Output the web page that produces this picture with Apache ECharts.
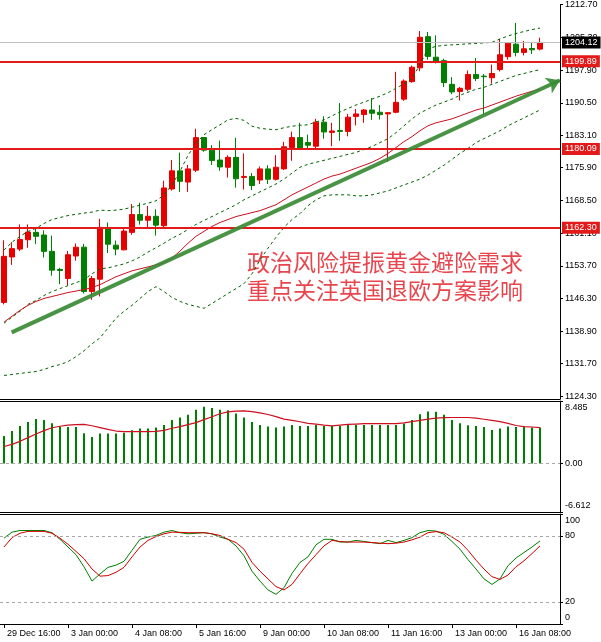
<!DOCTYPE html>
<html>
<head>
<meta charset="utf-8">
<script src="https://cdn.jsdelivr.net/npm/echarts@6.0.0/dist/echarts.min.js"></script>
<style>
html, body { margin: 0; padding: 0; background: #fff; }
#chart { width: 601px; height: 642px; }
</style>
</head>
<body>
<div id="chart"></div>
<script>
var chart = echarts.init(document.getElementById('chart'));

// 时间轴标签（每8根K线一个）
var timeLabels = ['29 Dec 16:00', '3 Jan 00:00', '4 Jan 08:00', '5 Jan 16:00', '9 Jan 00:00',
    '10 Jan 08:00', '11 Jan 16:00', '13 Jan 00:00', '16 Jan 08:00'];
var slotCount = 70; // 68根K线 + 右侧留白

// K线 开 高 低 收
var open = [1145.46,1155.71,1157.49,1159.60,1161.27,1160.67,1156.98,1152.92,1150.87,1155.93,
    1157.93,1147.91,1150.70,1162.23,1158.38,1157.33,1161.27,1165.28,1164.01,1164.90,
    1162.77,1171.07,1175.15,1172.63,1175.31,1182.66,1179.83,1177.60,1175.97,1178.20,
    1173.68,1173.90,1173.08,1175.60,1173.26,1175.60,1180.43,1182.66,1181.54,1180.72,
    1186.15,1183.84,1184.28,1184.06,1187.40,1187.85,1188.89,1188.38,1188.00,1188.38,
    1191.34,1195.28,1198.40,1205.44,1200.81,1200.03,1194.68,1193.06,1193.57,1196.91,
    1196.53,1196.17,1198.02,1200.92,1203.75,1201.88,1202.77,1202.63];
var high = [1159.49,1159.05,1163.06,1163.06,1162.50,1161.72,1160.54,1153.26,1157.04,1158.76,
    1158.67,1151.41,1164.33,1163.50,1159.43,1162.01,1167.67,1167.96,1167.22,1166.46,
    1172.92,1177.60,1179.25,1176.49,1184.66,1182.81,1180.94,1181.99,1178.65,1182.61,
    1179.09,1174.64,1176.13,1176.42,1178.71,1181.70,1184.00,1186.00,1183.32,1186.89,
    1187.49,1186.00,1190.45,1188.00,1189.11,1189.11,1191.56,1190.01,1188.45,1197.51,
    1195.80,1198.91,1206.71,1206.49,1205.75,1200.47,1196.31,1194.08,1197.80,1200.63,
    1197.02,1199.14,1204.93,1204.19,1208.54,1204.48,1204.26,1205.22];
var low = [1145.02,1153.92,1157.04,1157.78,1158.60,1155.60,1151.48,1149.58,1149.25,1154.88,
    1147.47,1146.06,1146.80,1156.60,1156.09,1157.20,1160.72,1163.00,1162.39,1160.54,
    1162.17,1170.70,1170.41,1170.41,1174.86,1179.47,1176.49,1175.19,1173.64,1171.36,
    1170.92,1170.81,1172.19,1172.19,1172.97,1175.37,1177.42,1179.83,1180.21,1180.21,
    1182.43,1180.72,1181.92,1182.95,1185.40,1186.00,1186.67,1186.73,1177.20,1188.16,
    1190.96,1195.06,1197.64,1200.25,1199.40,1194.08,1192.46,1191.05,1193.12,1195.42,
    1188.00,1194.84,1197.58,1200.25,1200.99,1201.21,1201.52,1202.34];
var close = [1155.86,1157.60,1159.65,1161.34,1160.38,1156.98,1152.74,1152.66,1156.22,1157.93,
    1147.91,1150.87,1162.39,1158.60,1157.49,1161.56,1165.28,1164.01,1164.90,1162.90,
    1171.30,1175.15,1172.79,1175.60,1182.66,1179.83,1177.47,1176.04,1178.20,1173.37,
    1173.90,1171.85,1175.60,1173.26,1175.97,1180.58,1182.66,1180.21,1180.94,1186.15,
    1183.93,1184.15,1184.06,1187.27,1188.00,1188.89,1188.16,1187.85,1188.29,1190.61,
    1195.42,1198.54,1205.31,1200.99,1199.69,1195.06,1192.97,1193.79,1196.91,1196.02,
    1196.40,1197.13,1201.36,1203.97,1201.88,1202.70,1202.48,1204.12];

// 布林带 + 红色均线
var bandUpper = [1157.27,1159.05,1160.38,1161.50,1162.17,1163.28,1164.17,1164.62,1165.06,1165.35,
    1165.62,1165.84,1166.29,1166.17,1166.29,1166.51,1166.95,1167.40,1167.85,1168.40,
    1169.74,1171.97,1175.08,1178.65,1181.32,1183.32,1184.44,1185.55,1186.66,1187.00,
    1186.55,1185.22,1184.77,1184.55,1184.44,1184.88,1185.22,1185.44,1185.55,1186.22,
    1186.66,1187.56,1188.45,1189.23,1190.01,1190.67,1191.34,1192.01,1192.79,1193.79,
    1194.79,1196.02,1199.14,1202.70,1203.26,1203.48,1203.59,1203.70,1203.81,1203.93,
    1204.04,1204.15,1204.93,1205.60,1206.15,1206.60,1207.04,1207.38];
var bandMiddle = [1140.78,1142.12,1143.46,1145.02,1145.91,1147.02,1147.91,1148.58,1149.25,1149.92,
    1150.58,1151.92,1153.03,1153.26,1153.70,1154.15,1154.82,1155.71,1156.82,1157.82,
    1158.82,1159.94,1160.83,1161.94,1163.06,1163.95,1164.84,1165.73,1166.62,1167.51,
    1168.62,1169.51,1170.41,1171.30,1172.19,1173.30,1174.64,1175.97,1176.64,1177.09,
    1177.53,1177.98,1178.42,1178.87,1179.31,1179.98,1180.65,1181.54,1182.43,1183.77,
    1185.33,1186.89,1188.22,1189.11,1190.01,1190.67,1191.34,1192.23,1192.90,1193.57,
    1194.01,1194.68,1195.35,1196.02,1196.69,1197.13,1197.58,1198.02];
var bandLower = [1128.98,1129.20,1129.43,1129.65,1129.87,1130.32,1130.98,1131.43,1132.10,1133.21,
    1134.55,1136.11,1137.45,1139.67,1141.90,1143.46,1144.79,1146.35,1147.91,1149.02,
    1147.91,1146.58,1145.68,1145.02,1144.57,1144.13,1145.24,1146.35,1147.47,1148.58,
    1149.69,1151.92,1155.04,1157.71,1160.16,1162.39,1164.17,1165.51,1167.29,1168.62,
    1169.51,1169.74,1169.74,1169.74,1169.51,1169.51,1169.74,1170.18,1170.63,1171.30,
    1171.97,1172.63,1173.30,1174.19,1175.31,1176.42,1177.76,1179.09,1180.21,1181.54,
    1182.43,1183.32,1184.21,1185.33,1186.22,1187.11,1188.00,1188.89];
var maRed = [1141.01,1142.34,1143.68,1144.79,1145.68,1146.35,1146.80,1147.24,1147.69,1148.02,
    1148.36,1148.80,1149.47,1150.36,1151.25,1151.92,1152.59,1153.03,1153.48,1153.92,
    1154.37,1155.48,1157.04,1158.82,1160.38,1161.50,1162.61,1163.50,1164.17,1164.84,
    1165.28,1165.73,1166.17,1166.84,1167.51,1168.62,1169.74,1170.63,1171.52,1172.41,
    1173.30,1173.97,1174.42,1175.08,1175.75,1176.42,1177.09,1177.98,1179.09,1180.43,
    1181.76,1182.88,1184.21,1185.33,1186.00,1186.44,1186.89,1187.56,1188.22,1188.89,
    1189.34,1190.01,1190.67,1191.34,1192.01,1192.57,1193.12,1193.57];

// MACD 柱 + 信号线
var macdHist = [3.72,4.40,5.09,5.64,6.05,5.91,5.46,5.01,4.95,4.95,
    4.09,3.58,4.05,4.05,4.05,4.18,4.50,4.73,4.73,4.87,
    5.23,5.91,6.24,6.60,7.28,7.70,7.52,7.28,7.24,6.79,
    6.24,5.64,5.23,5.01,4.87,5.01,5.23,5.09,5.09,5.23,
    5.09,5.09,5.09,5.23,5.23,5.23,5.23,5.23,5.23,5.23,
    5.42,5.91,6.69,7.06,7.01,6.60,5.91,5.46,5.18,5.09,
    4.95,4.54,4.73,5.01,4.95,5.01,4.87,4.87];
var macdSignal = [2.30,2.58,3.00,3.50,4.00,4.45,4.85,5.05,5.20,5.28,
    5.30,5.12,4.87,4.62,4.40,4.32,4.32,4.32,4.32,4.35,
    4.50,4.78,5.00,5.28,5.55,5.95,6.35,6.75,7.00,7.10,
    7.15,7.05,6.88,6.65,6.35,6.02,5.85,5.66,5.45,5.33,
    5.20,5.10,5.20,5.30,5.35,5.40,5.42,5.42,5.42,5.42,
    5.50,5.68,5.85,6.02,6.15,6.22,6.24,6.24,6.24,6.15,
    6.00,5.85,5.69,5.45,5.15,5.00,4.95,4.87];

// 随机指标 %K %D
var stochK = [78,83.5,85,85,85,85,83,77,70,63,
    52,39,45.5,51.5,53.5,57,67,77,79,80.5,
    83.5,85,83,82,82.5,83,82,79,77,71,
    62,48,39,31,27,33,46,56,61,72,
    77,77,74.5,74.5,76,75,74,73,76,74,
    76,78.5,83,85,84.5,81.5,75,68,58.5,50,
    41,36,41,53,60,65,70,75.5];
var stochD = [70,78.5,82.5,84.2,84.2,84.2,82.5,78,72.5,66,
    59.4,50,43.5,44,47,51.5,61,70,76,79.5,
    82,83.5,83.3,83,83,83,82,80.5,77,74,
    68,56,48,41,34,31,36,45.7,55,63,
    71,76,75,74.5,74.5,74.5,74,73.5,73,73.5,
    74.5,76.5,79,83,84,83,79,74.5,67,58,
    50,43,40.5,44.5,52,57.5,64,71];

// 坐标刻度
var priceTicks = [1124.30, 1131.70, 1138.90, 1146.30, 1153.70, 1161.10, 1168.50,
    1175.90, 1183.10, 1190.50, 1197.90, 1205.30, 1212.70];
var macdTicks = [-6.612, 0, 8.485];
var stochTicks = [0, 20, 80, 100];

// 水平线与趋势线
var levels = [1199.89, 1180.09, 1162.30];
var lastPrice = 1204.12;
var trendFrom = [0.96, 1138.7];
var trendTo = [69.5, 1195.6];

var noteLines = ['政治风险提振黄金避险需求', '重点关注英国退欧方案影响'];

var font = 'Liberation Sans';
var categories = [];
for (var i = 0; i < slotCount; i++) {
    categories.push(i % 8 === 0 && timeLabels[i / 8] ? timeLabels[i / 8] : '');
}
var candles = open.map(function (o, i) { return [o, close[i], low[i], high[i]]; });
var every8 = function (i) { return i % 8 === 0; };

var levelLines = [{
    yAxis: lastPrice,
    lineStyle: { color: '#c0c0c0', width: 1, type: 'solid' },
    label: { backgroundColor: '#000' }
}].concat(levels.map(function (v) {
    return {
        yAxis: v,
        lineStyle: { color: '#e31a1a', width: 2, type: 'solid' },
        label: { backgroundColor: '#e31a1a' }
    };
}));

function hiddenCat(grid, pos) {
    return {
        type: 'category', gridIndex: grid, data: categories, boundaryGap: true,
        position: pos || 'bottom',
        axisLine: { show: true, onZero: false, lineStyle: { color: '#000', width: 1 } },
        axisTick: { show: false }, axisLabel: { show: false }, splitLine: { show: false }
    };
}
function rightAxis(grid, min, max, ticks, fmt) {
    return {
        type: 'value', gridIndex: grid, position: 'right', min: min, max: max,
        axisLine: { show: true, onZero: false, lineStyle: { color: '#000', width: 1 } },
        axisTick: { show: true, length: 3, customValues: ticks, lineStyle: { color: '#000' } },
        axisLabel: {
            customValues: ticks, formatter: fmt, margin: 5,
            color: '#000', fontSize: 9, fontFamily: font,
            rich: {
                t: { padding: [14, 0, 0, 0], color: '#000', fontSize: 9, fontFamily: font },
                b: { padding: [0, 0, 13, 0], color: '#000', fontSize: 9, fontFamily: font }
            }
        },
        splitLine: { show: false }
    };
}
function dashedLine(name, data, color) {
    return {
        name: name, type: 'line', xAxisIndex: 0, yAxisIndex: 0, data: data,
        symbol: 'none', silent: true,
        lineStyle: { color: color, width: 1, type: [3, 3] }
    };
}
function guide(v) {
    return { yAxis: v };
}

option = {
    animation: false,
    backgroundColor: '#fff',
    grid: [
        { left: 0, top: 0, width: 560, height: 399 },
        { left: 0, top: 401, width: 560, height: 111 },
        { left: 0, top: 514, width: 560, height: 110 }
    ],
    xAxis: [
        hiddenCat(0),
        hiddenCat(1),
        {
            type: 'category', gridIndex: 2, data: categories, boundaryGap: true,
            axisLine: { show: true, onZero: false, lineStyle: { color: '#000', width: 1 } },
            axisTick: { show: true, interval: every8, alignWithLabel: true, length: 4, lineStyle: { color: '#000' } },
            axisLabel: {
                interval: every8, align: 'left', margin: 5, padding: [0, 0, 0, 3],
                color: '#000', fontSize: 9, fontFamily: font
            },
            splitLine: { show: false }
        },
        { type: 'value', gridIndex: 0, min: -0.5, max: slotCount - 0.5, show: false },
        hiddenCat(1, 'top'),
        hiddenCat(2, 'top')
    ],
    yAxis: [
        rightAxis(0, 1123.66, 1212.72, priceTicks, function (v) { return v.toFixed(2); }),
        rightAxis(1, -6.612, 8.485, macdTicks, function (v) {
            if (v > 0) return '{t|' + v.toFixed(3) + '}';
            if (v < 0) return '{b|' + v.toFixed(3) + '}';
            return '0.00';
        }),
        rightAxis(2, 0, 100, stochTicks, function (v) {
            if (v === 100) return '{t|100}';
            if (v === 0) return '{b|0}';
            return String(v);
        })
    ],
    graphic: [{
        type: 'text', left: 247, top: 248, silent: true,
        style: {
            text: noteLines.join('\n'),
            fill: '#e8464e',
            fontSize: 23,
            lineHeight: 28,
            fontFamily: 'Noto Sans CJK SC'
        }
    }],
    series: [
        dashedLine('上轨', bandUpper, '#006400'),
        dashedLine('中轨', bandMiddle, '#006400'),
        dashedLine('下轨', bandLower, '#006400'),
        {
            name: '均线', type: 'line', xAxisIndex: 0, yAxisIndex: 0, data: maRed,
            symbol: 'none', silent: true,
            lineStyle: { color: '#cc1020', width: 1 }
        },
        {
            name: 'K线', type: 'candlestick', xAxisIndex: 0, yAxisIndex: 0,
            data: candles, barWidth: 5,
            itemStyle: {
                color: '#e80000', color0: '#008000',
                borderColor: '#e80000', borderColor0: '#008000', borderWidth: 1
            },
            markLine: {
                symbol: 'none', silent: true, animation: false,
                label: {
                    show: true, position: 'end', distance: 2,
                    formatter: function (p) { return p.value.toFixed(2); },
                    color: '#fff', fontSize: 9, fontFamily: font, padding: [2, 3, 1, 3]
                },
                data: levelLines
            }
        },
        {
            name: '趋势', type: 'line', xAxisIndex: 3, yAxisIndex: 0, data: [],
            markLine: {
                symbol: ['none', 'arrow'], symbolSize: 13, silent: true, animation: false,
                label: { show: false },
                lineStyle: { color: '#3a8a35', width: 4, type: 'solid', opacity: 0.92 },
                data: [[{ coord: trendFrom }, { coord: trendTo }]]
            }
        },
        {
            name: 'MACD', type: 'bar', xAxisIndex: 1, yAxisIndex: 1, data: macdHist,
            barWidth: 2, silent: true,
            itemStyle: { color: '#008000' },
            markLine: {
                symbol: 'none', silent: true, animation: false, label: { show: false },
                lineStyle: { color: '#a8a8a8', width: 1, type: [3, 3] },
                data: [guide(0)]
            }
        },
        {
            name: 'Signal', type: 'line', xAxisIndex: 1, yAxisIndex: 1, data: macdSignal,
            symbol: 'none', silent: true,
            lineStyle: { color: '#cc1020', width: 1.2 }
        },
        {
            name: '%K', type: 'line', xAxisIndex: 2, yAxisIndex: 2, data: stochK,
            symbol: 'none', silent: true,
            lineStyle: { color: '#008000', width: 1 },
            markLine: {
                symbol: 'none', silent: true, animation: false, label: { show: false },
                lineStyle: { color: '#a8a8a8', width: 1, type: [3, 3] },
                data: [guide(20), guide(80)]
            }
        },
        {
            name: '%D', type: 'line', xAxisIndex: 2, yAxisIndex: 2, data: stochD,
            symbol: 'none', silent: true,
            lineStyle: { color: '#d00000', width: 1 }
        }
    ]
};

chart.setOption(option);
</script>
</body>
</html>
